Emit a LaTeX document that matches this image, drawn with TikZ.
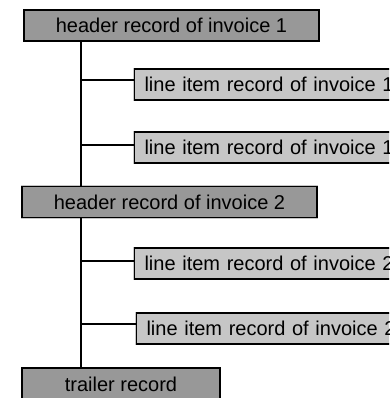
\documentclass[tikz,border=0pt]{standalone}
\usepackage{fontspec}
\setmainfont{Liberation Sans}
\definecolor{headgray}{RGB}{152,152,152}
\definecolor{itemgray}{RGB}{198,198,198}
\begin{document}
\begin{tikzpicture}[x=1pt,y=-1pt,
  recbox/.style={preaction={draw=gray!45,line width=2.6pt},draw=black,line width=1.1pt,
    inner sep=0pt,font=\fontsize{20}{22}\selectfont},
  headbox/.style={recbox,fill=headgray,minimum height=31pt},
  itembox/.style={recbox,fill=itemgray,minimum height=31pt,
    text width=280pt,align=left,inner xsep=10pt,anchor=west},
  link/.style={draw=black,line width=1.1pt}]
\useasboundingbox (0,0) rectangle (389,398);
\clip (0,0) rectangle (389,398);
\node[headbox,minimum width=295pt] (h1) at (171.5,25.5) {header record of invoice 1};
\node[itembox] (l1a) at (134,84.5) {line item record of invoice 1};
\node[itembox] (l1b) at (134,147.5) {line item record of invoice 1};
\node[headbox,minimum width=295pt] (h2) at (169.5,202) {header record of invoice 2};
\node[itembox] (l2a) at (134,263.5) {line item record of invoice 2};
\node[itembox] (l2b) at (136,328.5) {line item record of invoice 2};
\node[headbox,minimum width=198pt,minimum height=32pt] (tr) at (121,384) {trailer record};
\coordinate (t) at (81,0);
\coordinate (b1) at (0,80);
\coordinate (b2) at (0,145);
\coordinate (b3) at (0,261);
\coordinate (b4) at (0,324);
\draw[link] (t |- h1.south) -- (t |- h2.north);
\draw[link] (t |- h2.south) -- (t |- tr.north);
\draw[link] (t |- b1) -- (l1a.west |- b1);
\draw[link] (t |- b2) -- (l1b.west |- b2);
\draw[link] (t |- b3) -- (l2a.west |- b3);
\draw[link] (t |- b4) -- (l2b.west |- b4);
\end{tikzpicture}
\end{document}
